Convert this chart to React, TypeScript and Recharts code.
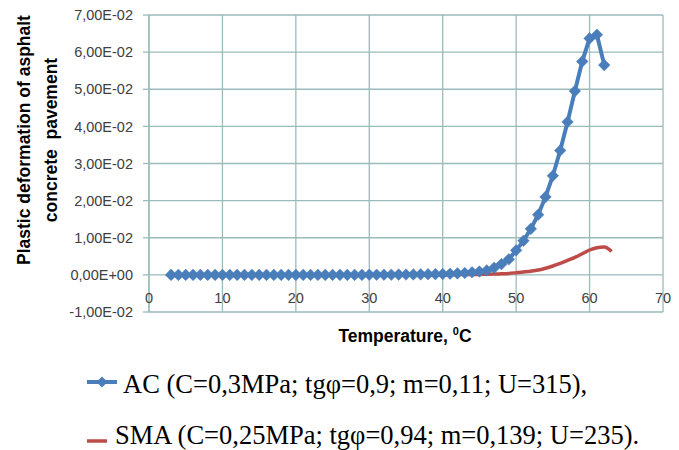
import { LineChart, Line, XAxis, YAxis, CartesianGrid } from 'recharts';

const temperatures = [
  3, 4, 5, 6, 7, 8, 9, 10, 11, 12, 13, 14, 15, 16, 17, 18, 19, 20, 21, 22, 23, 24, 25, 26, 27, 28, 29,
  30, 31, 32, 33, 34, 35, 36, 37, 38, 39, 40, 41, 42, 43, 44, 45, 46, 47, 48, 49,
  50, 51, 52, 53, 54, 55, 56, 57, 58, 59, 60, 61, 62, 63,
];

// AC (C=0,3MPa ...)
const acValues = [
  0, 0, 0, 0, 0, 0, 0, 0, 0, 0, 0, 0, 0, 0, 0, 0, 0, 0, 0, 0, 0, 0, 0, 0, 0, 0, 0,
  0.00002, 0.00003, 0.00004, 0.00005, 0.00007, 0.00009, 0.00011, 0.00014, 0.00017, 0.0002,
  0.00022, 0.0003, 0.0004, 0.0005, 0.0007, 0.0009, 0.0012, 0.0019, 0.0029,
  0.0042, 0.0066, 0.0092, 0.0124, 0.0162, 0.021, 0.0267, 0.0335, 0.0412, 0.0495,
  0.0575, 0.0637, 0.0647, 0.0565,
];

// SMA (C=0,25MPa ...)
const smaValues = [
  0, 0, 0, 0, 0, 0, 0, 0, 0, 0, 0, 0, 0, 0, 0, 0, 0, 0, 0, 0, 0, 0, 0, 0, 0, 0, 0,
  0, 0, 0, 0, 0, 0, 0, 0, 0, 0,
  0.00003, 0.00004, 0.00006, 0.00008, 0.0001, 0.00013, 0.00017, 0.00022, 0.0003, 0.0004,
  0.00058, 0.00078, 0.001, 0.0013, 0.0018, 0.0024, 0.0031, 0.0039, 0.0047, 0.0057,
  0.0067, 0.0073, 0.0075, 0.0063,
];

const xTicks = [0, 10, 20, 30, 40, 50, 60, 70];
const yTicks = [-0.01, 0, 0.01, 0.02, 0.03, 0.04, 0.05, 0.06, 0.07];
const yTickLabels = [
  '-1,00E-02', '0,00E+00', '1,00E-02', '2,00E-02', '3,00E-02',
  '4,00E-02', '5,00E-02', '6,00E-02', '7,00E-02',
];

const data = temperatures.map((t, i) => ({ t, ac: acValues[i], sma: smaValues[i] }));

const BLUE = '#4a7ebb';
const RED = '#be4b48';
const GRID = '#9bbaba';
const TICK_FONT = '"Liberation Sans", Arial, sans-serif';

const Diamond = ({ cx, cy }: any) => {
  if (cx == null || cy == null) return null;
  const r = 5.8;
  return (
    <polygon
      points={`${cx},${cy - r} ${cx + r},${cy} ${cx},${cy + r} ${cx - r},${cy}`}
      fill={BLUE}
      stroke={BLUE}
      strokeWidth={0.5}
    />
  );
};

const XTick = ({ x, y, payload }: any) => (
  <text
    x={x}
    y={y - 14}
    textAnchor="middle"
    dominantBaseline="central"
    fontSize={14.5}
    fontFamily={TICK_FONT}
    fill="#404040"
  >
    {payload.value}
  </text>
);

export default function App() {
  return (
    <div style={{ position: 'absolute', left: 0, top: 0, width: 679, height: 450, background: '#fff' }}>
      <LineChart
        width={679}
        height={345}
        data={data}
        margin={{ top: 15, right: 16, left: 0, bottom: 0 }}
      >
        <CartesianGrid stroke={GRID} strokeWidth={1.3} />
        <XAxis
          dataKey="t"
          type="number"
          domain={[0, 70]}
          ticks={xTicks}
          height={33}
          axisLine={false}
          tickLine={false}
          tickSize={0}
          tickMargin={0}
          tick={<XTick />}
          interval={0}
        />
        <YAxis
          type="number"
          domain={[-0.01, 0.07]}
          ticks={yTicks}
          width={149}
          interval={0}
          axisLine={{ stroke: GRID, strokeWidth: 1.3 }}
          tickLine={{ stroke: GRID, strokeWidth: 1.3 }}
          tickSize={6}
          tickMargin={10}
          tickFormatter={(v: number) => yTickLabels[yTicks.findIndex((t) => Math.abs(t - v) < 1e-9)] ?? ''}
          tick={{ fontSize: 14.5, fontFamily: TICK_FONT, fill: '#404040' }}
        />
        <Line
          dataKey="ac"
          type="linear"
          stroke={BLUE}
          strokeWidth={4}
          dot={<Diamond />}
          activeDot={false}
          isAnimationActive={false}
        />
        <Line
          dataKey="sma"
          type="monotone"
          stroke={RED}
          strokeWidth={3.5}
          dot={false}
          activeDot={false}
          isAnimationActive={false}
        />
      </LineChart>
      <svg
        width={679}
        height={450}
        style={{ position: 'absolute', left: 0, top: 0, pointerEvents: 'none' }}
      >
        <g fontFamily={TICK_FONT} fontWeight="bold" fontSize={17.5} fill="#000">
          <text x={24} y={140} transform="rotate(-90 24 140)" textAnchor="middle" dominantBaseline="central">
            Plastic deformation of asphalt
          </text>
          <text x={51} y={140} transform="rotate(-90 51 140)" textAnchor="middle" dominantBaseline="central">
            {'concrete\u00a0 pavement'}
          </text>
          <text x={405} y={342} textAnchor="middle">
            Temperature, <tspan fontSize={11} dy={-7}>0</tspan><tspan dy={7}>C</tspan>
          </text>
        </g>
        <g fontFamily='"Liberation Serif", "Times New Roman", serif' fontSize={26.5} fill="#000">
          <line x1={87} y1={382} x2={117} y2={382} stroke={BLUE} strokeWidth={4} />
          <polygon points="102,376.5 107.5,382 102,387.5 96.5,382" fill={BLUE} />
          <text x={123} y={393}>AC (C=0,3MPa; tgφ=0,9; m=0,11; U=315),</text>
          <line x1={87} y1={441} x2={107} y2={441} stroke={RED} strokeWidth={3.5} />
          <text x={115} y={444}>SMA (C=0,25MPa; tgφ=0,94; m=0,139; U=235).</text>
        </g>
      </svg>
    </div>
  );
}
